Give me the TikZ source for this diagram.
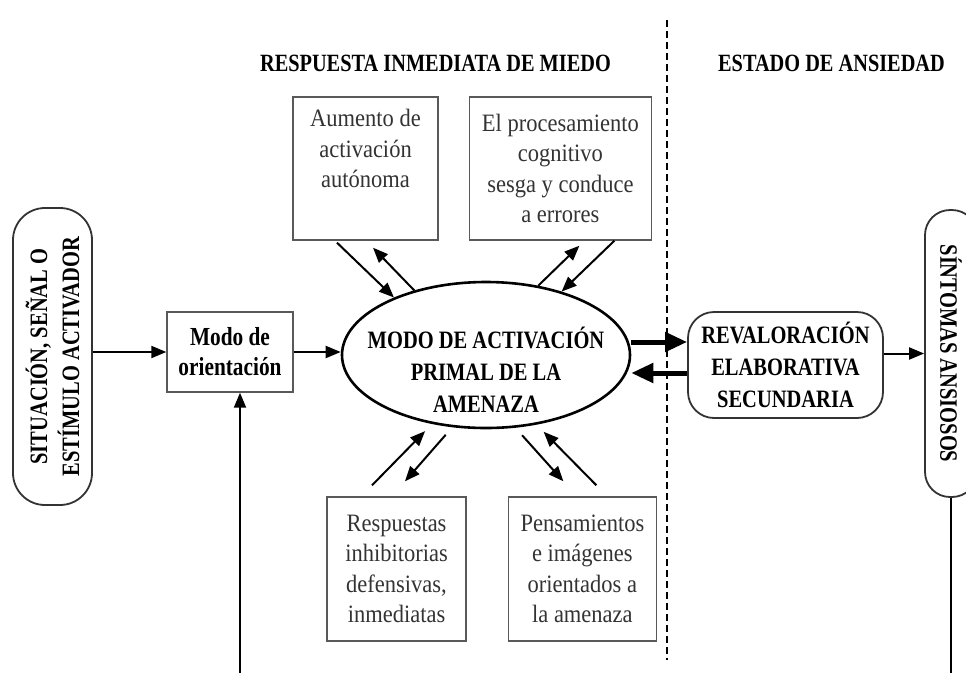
\documentclass[tikz,border=0pt]{standalone}
\usepackage{fontspec}
\setmainfont{Liberation Serif}[FakeStretch=0.9]
\newfontfamily\negrita{Liberation Serif}[FakeStretch=0.82]
\usetikzlibrary{shapes.geometric,arrows.meta,positioning}

\tikzset{
  caja/.style={draw=black!65, line width=1.4pt, inner sep=0pt, align=center,
    text=black!80, font=\fontsize{25}{30.5}\selectfont},
  redonda/.style={draw=black!80, line width=1.8pt, rounded corners=#1, inner sep=0pt,
    align=center, font=\negrita\bfseries\fontsize{25}{32}\selectfont},
  redonda/.default=25pt,
  titulo/.style={font=\negrita\bfseries\fontsize{24.8}{24}\selectfont},
  flecha/.style={line width=2pt, -{Triangle[length=15pt,width=12pt]}},
  gorda/.style={line width=5pt, -{Triangle[length=22pt,width=19pt]}},
}

\begin{document}
\begin{tikzpicture}[x=1pt, y=-1pt]
    \useasboundingbox (0,0) rectangle (966,673);
    \clip (0,0) rectangle (966,673);
    \node[titulo] (h1) at (435.5,63) {RESPUESTA INMEDIATA DE MIEDO};
    \node[titulo] (h2) at (831.5,63) {ESTADO DE ANSIEDAD};
    \coordinate (d1) at (667,20);
    \coordinate (d2) at (667,660);
    \draw[line width=2.5pt, dash pattern=on 7pt off 4pt] (d1) -- (d2);

    \node[redonda=32pt, rotate=90, minimum width=297pt, minimum height=79pt] (s) at (52.5,356.5)
      {SITUACIÓN, SEÑAL O\\ESTÍMULO ACTIVADOR};
    \node[caja, text=black, font=\negrita\bfseries\fontsize{26}{30}\selectfont,
      minimum width=126pt, minimum height=80pt] (o) at (230,352) {Modo de\\orientación};
    \node[draw, ellipse, line width=2.6pt, minimum width=288pt, minimum height=146pt,
      inner sep=0pt] (m) at (486,355) {};
    \node[titulo, align=center, font=\negrita\bfseries\fontsize{25}{32}\selectfont] (mt) at (486,370)
      {MODO DE ACTIVACIÓN\\PRIMAL DE LA\\AMENAZA};
    \node[caja, minimum width=145pt, minimum height=143pt] (a1) at (365.5,168.5)
      {Aumento de\\activación\\autónoma\\\strut};
    \node[caja, minimum width=182pt, minimum height=143pt, right=30pt of a1] (a2)
      {El procesamiento\\cognitivo\\sesga y conduce\\a errores};
    \node[caja, minimum width=139pt, minimum height=144pt] (b1) at (396.5,569)
      {Respuestas\\inhibitorias\\defensivas,\\inmediatas};
    \node[caja, minimum width=148pt, minimum height=144pt, right=41pt of b1] (b2)
      {Pensamientos\\e imágenes\\orientados a\\la amenaza};
    \node[redonda=26pt, minimum width=195pt, minimum height=106pt] (r) at (785.5,365)
      {REVALORACIÓN\\ELABORATIVA\\SECUNDARIA};
    \node[redonda=25pt, rotate=-90, minimum width=287pt, minimum height=52pt] (t) at (951,353.5)
      {SÍNTOMAS ANSIOSOS};
    \coordinate (p1) at (240,673);
    \coordinate (p2) at (951,673);

    \draw[flecha] (s.south |- o.west) -- (o.west);
    \draw[flecha] (o.east) -- (o.east -| m.west);
    \draw[flecha] (p1) -- (p1 |- o.south);
    \draw[gorda] ([yshift=13pt]m.east) -- ([yshift=13pt]m.east -| r.west);
    \draw[gorda] ([yshift=-18pt]m.east -| r.west) -- ([yshift=-18pt]m.east);
    \draw[flecha] (r.east |- t.south) -- (t.south);
    \draw[line width=2pt] (t.east) -- (p2);

    \draw[flecha] ([xshift=-28.5pt,yshift=-2pt]a1.south) -- (m.148);
    \draw[flecha] (m.138) -- ([xshift=7.5pt,yshift=-7pt]a1.south);
    \draw[flecha] (m.53) -- ([xshift=19pt,yshift=-5pt]a2.south);
    \draw[flecha] ([xshift=54pt]a2.south) -- (m.40);
    \draw[flecha, shorten >=10pt] ([xshift=-24.5pt,yshift=11pt]b1.north) -- (m.232);
    \draw[flecha, shorten <=10pt] (m.245) -- ([xshift=8.5pt,yshift=15pt]b1.north);
    \draw[flecha, shorten <=10pt] (m.292) -- ([xshift=-19pt,yshift=15pt]b2.north);
    \draw[flecha, shorten >=10pt] ([xshift=14pt,yshift=11pt]b2.north) -- (m.306);
\end{tikzpicture}
\end{document}
